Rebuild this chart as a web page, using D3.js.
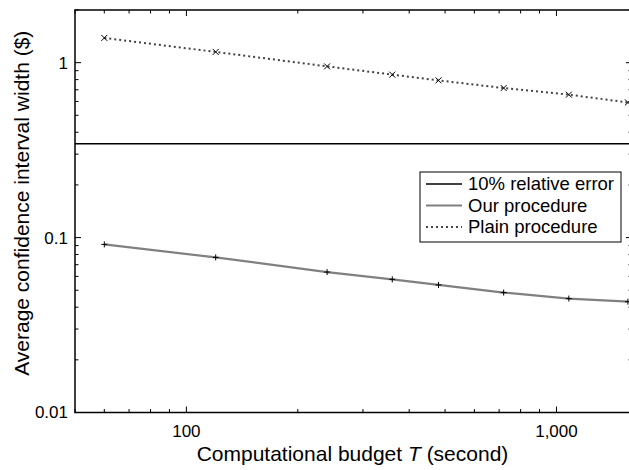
<!DOCTYPE html>
<html>
<head>
<meta charset="utf-8">
<script src="https://cdn.jsdelivr.net/npm/d3@7"></script>
<style>
body { margin: 0; background: #fff; }
text { font-family: "Liberation Sans", Arial, Helvetica, sans-serif; fill: #000; }
</style>
</head>
<body>
<script>
var budget = [60, 120, 240, 360, 480, 720, 1080, 1560];
var ourWidth = [0.0914, 0.0770, 0.0635, 0.0577, 0.0536, 0.0485, 0.0448, 0.0430];
var plainWidth = [1.385, 1.152, 0.952, 0.854, 0.792, 0.716, 0.656, 0.592];
var relErrorLevel = 0.344;
var xTickLabels = [[100, "100"], [1000, "1,000"]];
var yTickLabels = [[0.01, "0.01"], [0.1, "0.1"], [1, "1"]];
var legendNames = ["10% relative error", "Our procedure", "Plain procedure"];

var svg = d3.select("body").append("svg")
  .attr("width", 629)
  .attr("height", 470);

var pLeft = 75, pRight = 632, pTop = 10, pBottom = 412.5;

var x = d3.scaleLog().domain([50, 1600]).range([pLeft, pRight]);
var y = d3.scaleLog().domain([0.01, 2]).range([pBottom, pTop]);

var g = svg.append("g");

// minor and major ticks, all pointing inward
var xMinor = [50, 60, 70, 80, 90, 200, 300, 400, 500, 600, 700, 800, 900];
var yMinor = [0.02, 0.03, 0.04, 0.05, 0.06, 0.07, 0.08, 0.09, 0.2, 0.3, 0.4, 0.5, 0.6, 0.7, 0.8, 0.9, 2];
var xMajor = xTickLabels.map(function(d) { return d[0]; });
var yMajor = yTickLabels.map(function(d) { return d[0]; });

function xTicks(vals, len) {
  vals.forEach(function(v) {
    g.append("line").attr("x1", x(v)).attr("x2", x(v)).attr("y1", pBottom).attr("y2", pBottom - len)
      .attr("stroke", "#000").attr("stroke-width", 1);
    g.append("line").attr("x1", x(v)).attr("x2", x(v)).attr("y1", pTop).attr("y2", pTop + len)
      .attr("stroke", "#000").attr("stroke-width", 1);
  });
}
function yTicks(vals, len) {
  vals.forEach(function(v) {
    g.append("line").attr("y1", y(v)).attr("y2", y(v)).attr("x1", pLeft).attr("x2", pLeft + len)
      .attr("stroke", "#000").attr("stroke-width", 1);
    g.append("line").attr("y1", y(v)).attr("y2", y(v)).attr("x1", pRight).attr("x2", pRight - len)
      .attr("stroke", "#000").attr("stroke-width", 1);
  });
}
xTicks(xMinor, 3.5);
xTicks(xMajor, 6);
yTicks(yMinor, 3.5);
yTicks(yMajor, 6);

// frame
g.append("rect")
  .attr("x", pLeft).attr("y", pTop)
  .attr("width", pRight - pLeft).attr("height", pBottom - pTop)
  .attr("fill", "none").attr("stroke", "#000").attr("stroke-width", 1.5);

// tick labels
g.selectAll(".xl").data(xTickLabels).enter().append("text")
  .attr("x", function(d) { return x(d[0]); })
  .attr("y", pBottom + 24)
  .attr("text-anchor", "middle")
  .style("font-size", "17px")
  .text(function(d) { return d[1]; });

g.selectAll(".yl").data(yTickLabels).enter().append("text")
  .attr("x", pLeft - 7)
  .attr("y", function(d) { return y(d[0]); })
  .attr("dy", "0.35em")
  .attr("text-anchor", "end")
  .style("font-size", "17px")
  .text(function(d) { return d[1]; });

// axis titles
var xt = svg.append("text")
  .attr("x", (pLeft + pRight) / 2 - 1)
  .attr("y", 461)
  .attr("text-anchor", "middle")
  .style("font-size", "21px");
xt.append("tspan").text("Computational budget ");
xt.append("tspan").style("font-style", "italic").text("T");
xt.append("tspan").text(" (second)");

svg.append("text")
  .attr("transform", "translate(29," + ((pTop + pBottom) / 2 - 8) + ") rotate(-90)")
  .attr("text-anchor", "middle")
  .style("font-size", "21px")
  .text("Average confidence interval width ($)");

// 10% relative error line
g.append("line")
  .attr("x1", pLeft).attr("x2", pRight)
  .attr("y1", y(relErrorLevel)).attr("y2", y(relErrorLevel))
  .attr("stroke", "#000").attr("stroke-width", 1.5);

var line = d3.line()
  .x(function(d) { return x(d[0]); })
  .y(function(d) { return y(d[1]); });

var ourData = d3.zip(budget, ourWidth);
var plainData = d3.zip(budget, plainWidth);

g.append("path").datum(ourData)
  .attr("d", line)
  .attr("fill", "none").attr("stroke", "#808080").attr("stroke-width", 2.2);

g.append("path").datum(plainData)
  .attr("d", line)
  .attr("fill", "none").attr("stroke", "#444").attr("stroke-width", 2)
  .attr("stroke-dasharray", "2,3");

// markers
var s = 3;
g.selectAll(".plus").data(ourData).enter().append("path")
  .attr("d", function(d) {
    var cx = x(d[0]), cy = y(d[1]);
    return "M" + (cx - s) + "," + cy + "H" + (cx + s) + "M" + cx + "," + (cy - s) + "V" + (cy + s);
  })
  .attr("stroke", "#000").attr("stroke-width", 1).attr("fill", "none");

g.selectAll(".cross").data(plainData).enter().append("path")
  .attr("d", function(d) {
    var cx = x(d[0]), cy = y(d[1]);
    return "M" + (cx - s) + "," + (cy - s) + "L" + (cx + s) + "," + (cy + s) +
      "M" + (cx - s) + "," + (cy + s) + "L" + (cx + s) + "," + (cy - s);
  })
  .attr("stroke", "#000").attr("stroke-width", 1).attr("fill", "none");

// legend
var lg = svg.append("g").attr("transform", "translate(420,172)");
lg.append("rect").attr("width", 201).attr("height", 70)
  .attr("fill", "#fff").attr("stroke", "#000").attr("stroke-width", 1);

var styles = [
  { stroke: "#000", width: 1.5, dash: null },
  { stroke: "#808080", width: 2.2, dash: null },
  { stroke: "#444", width: 2, dash: "2,3" }
];
var row = lg.selectAll(".row").data(legendNames).enter().append("g")
  .attr("transform", function(d, i) { return "translate(0," + (12 + i * 21.5) + ")"; });
row.append("line")
  .attr("x1", 6).attr("x2", 42)
  .attr("stroke", function(d, i) { return styles[i].stroke; })
  .attr("stroke-width", function(d, i) { return styles[i].width; })
  .attr("stroke-dasharray", function(d, i) { return styles[i].dash; });
row.append("text")
  .attr("x", 48)
  .attr("dy", "0.35em")
  .style("font-size", "18.5px")
  .text(function(d) { return d; });
</script>
</body>
</html>
